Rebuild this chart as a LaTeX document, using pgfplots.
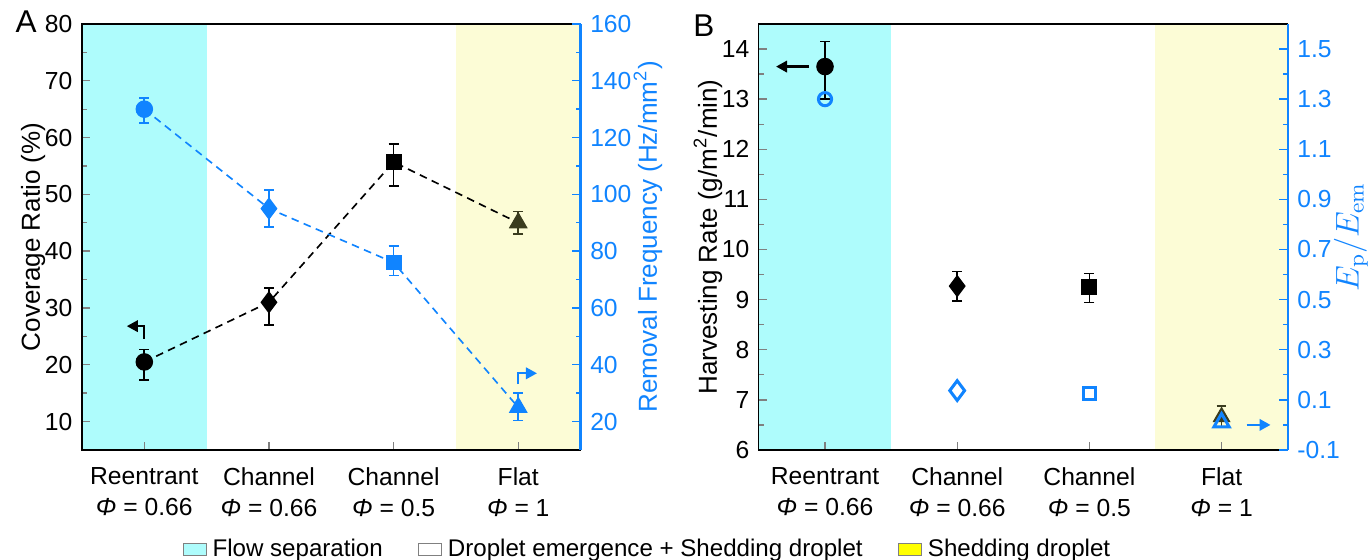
\documentclass[border=0pt]{standalone}
\usepackage[no-math]{fontspec}
\setmainfont{Liberation Sans}
\usepackage{pgfplots}
\pgfplotsset{compat=1.18}
\usetikzlibrary{arrows.meta}

\definecolor{cyanbg}{RGB}{174,252,252}
\definecolor{yellowbg}{RGB}{252,252,214}
\definecolor{fblue}{RGB}{16,132,255}
\definecolor{darkol}{RGB}{58,60,30}
\definecolor{legyellow}{RGB}{255,255,0}

\pgfplotsset{
  every axis/.append style={
    scale only axis,
    font=\fontsize{9.5}{11}\selectfont,
    tick label style={font=\fontsize{9}{11.2}\selectfont},
    /pgf/number format/assume math mode=true,
    xmin=-0.5, xmax=3.5,
    height=155.5pt,
    tick style={line width=0.5pt},
    major tick length=3pt, minor tick length=1.8pt,
  },
  leftax/.style={axis on top, xtick pos=bottom, ytick pos=left,
    xtick={0,1,2,3},
    xticklabel style={align=center, yshift=-3pt},
    xticklabels={{Reentrant\\\textit{Φ} = 0.66},{Channel\\\textit{Φ} = 0.66},
                 {Channel\\\textit{Φ} = 0.5},{Flat\\\textit{Φ} = 1}},
    ylabel shift=-7pt,
    minor y tick num=1, clip=false},
  rightax/.style={axis x line=none, axis y line*=right,
    y axis line style={fblue, line width=0.8pt},
    ytick style={fblue}, yticklabel style={text=fblue},
    ylabel style={text=fblue}, minor y tick num=1, clip=false},
  ebar/.style={/pgfplots/error bars/y dir=both, /pgfplots/error bars/y explicit,
    /pgfplots/error bars/error bar style={line width=0.6pt},
    /pgfplots/error bars/error mark options={rotate=90, mark size=1.8pt, line width=0.6pt}},
  dline/.style={dash pattern=on 2.8pt off 2pt, line width=0.6pt},
}

\begin{document}
\begin{tikzpicture}
\path[use as bounding box] (-29.93pt,-39.8pt) rectangle (469.8pt,164.25pt);

% ---------------- panel A ----------------
\begin{axis}[leftax, at={(0,0)}, anchor=south west, width=182pt,
  ymin=5, ymax=80, ytick={10,20,...,80},
  ylabel={Coverage Ratio (\%)},
  legend style={at={(1.138,-0.235)}, anchor=center, draw=none, fill=none,
    legend columns=3, font=\fontsize{8.8}{10}\selectfont,
    /tikz/every even column/.append style={column sep=11pt}},
  legend image code/.code={\draw[#1] (0pt,-2.1pt) rectangle (8.4pt,2.3pt);},
]
\addlegendimage{fill=cyanbg, draw=gray}
\addlegendentry{Flow separation}
\addlegendimage{fill=white, draw=gray}
\addlegendentry{Droplet emergence + Shedding droplet}
\addlegendimage{fill=legyellow, draw=gray}
\addlegendentry{Shedding droplet}

\fill[cyanbg] (axis cs:-0.5,5) rectangle (axis cs:0.5,80);
\fill[yellowbg] (axis cs:2.5,5) rectangle (axis cs:3.5,80);

\addplot[black, dline, forget plot] coordinates {(0,20.5) (1,31) (2,55.7) (3,45)};
\addplot[black, only marks, mark=*, mark size=3pt, forget plot, ebar]
  coordinates {(0,20.5) += (0,2.2) -= (0,3.2)};
\addplot[black, only marks, mark=diamond*, mark size=3.8pt, forget plot, ebar]
  coordinates {(1,31) += (0,2.5) -= (0,4)};
\addplot[black, only marks, mark=square*, mark size=2.7pt, forget plot, ebar]
  coordinates {(2,55.7) += (0,3.2) -= (0,4.2)};
\addplot[darkol, only marks, mark=triangle*, mark size=3.6pt, forget plot, ebar]
  coordinates {(3,45) += (0,2) -= (0,2)};

\draw[black, line width=0.7pt, -{Triangle[length=4pt,width=4.2pt]}]
  (axis cs:0,24.6) -- (axis cs:0,26.8) -- (axis cs:-0.14,26.8);
\draw[fblue, line width=0.7pt, -{Triangle[length=4pt,width=4.2pt]}]
  (axis cs:3,16.6) -- (axis cs:3,18.5) -- (axis cs:3.15,18.5);

\node[anchor=north west, inner sep=0pt, font=\fontsize{11.5}{12}\selectfont]
  at (rel axis cs:-0.134,1.033) {A};
\end{axis}

\begin{axis}[rightax, at={(0,0)}, anchor=south west, width=182pt,
  ymin=10, ymax=160, ytick={20,40,...,160},
  ylabel={Removal Frequency (Hz/mm\textsuperscript{2})}, ylabel shift=-6pt,
]
\addplot[fblue, dline] coordinates {(0,130) (1,95) (2,76) (3,25)};
\addplot[fblue, only marks, mark=*, mark size=3pt, ebar]
  coordinates {(0,130) += (0,4) -= (0,4.8)};
\addplot[fblue, only marks, mark=diamond*, mark size=3.8pt, ebar]
  coordinates {(1,95) += (0,6.6) -= (0,6.4)};
\addplot[fblue, only marks, mark=square*, mark size=2.7pt, ebar]
  coordinates {(2,76) += (0,5.8) -= (0,4.6)};
\addplot[fblue, only marks, mark=triangle*, mark size=3.6pt, ebar]
  coordinates {(3,25) += (0,5) -= (0,4.6)};
\end{axis}

% ---------------- panel B ----------------
\begin{axis}[leftax, at={(247.1pt,0)}, anchor=south west, width=193pt,
  ymin=6, ymax=14.5, ytick={6,...,14},
  ylabel={Harvesting Rate (g/m\textsuperscript{2}/min)},
]
\fill[cyanbg] (axis cs:-0.5,6) rectangle (axis cs:0.5,14.5);
\fill[yellowbg] (axis cs:2.5,6) rectangle (axis cs:3.5,14.5);

\addplot[black, only marks, mark=*, mark size=3pt, ebar]
  coordinates {(0,13.65) += (0,0.5) -= (0,0.65)};
\addplot[black, only marks, mark=diamond*, mark size=3.8pt, ebar]
  coordinates {(1,9.27) += (0,0.29) -= (0,0.3)};
\addplot[black, only marks, mark=square*, mark size=2.7pt, ebar]
  coordinates {(2,9.25) += (0,0.27) -= (0,0.31)};
\addplot[darkol, only marks, mark=triangle*, mark size=3.4pt, ebar]
  coordinates {(3,6.66) += (0,0.22) -= (0,0.2)};

\draw[black, line width=0.8pt, -{Triangle[length=4pt,width=4.2pt]}]
  (axis cs:-0.12,13.65) -- (axis cs:-0.37,13.65);
\draw[fblue, line width=0.8pt, -{Triangle[length=4pt,width=4.2pt]}]
  (axis cs:3.19,6.5) -- (axis cs:3.37,6.5);

\node[anchor=north west, inner sep=0pt, font=\fontsize{11.5}{12}\selectfont]
  at (rel axis cs:-0.125,1.023) {B};
\end{axis}

\begin{axis}[rightax, at={(247.1pt,0)}, anchor=south west, width=193pt,
  ymin=-0.1, ymax=1.6, ytick={-0.1,0.1,0.3,0.5,0.7,0.9,1.1,1.3,1.5},
  yticklabel style={/pgf/number format/.cd, fixed, fixed zerofill, precision=1},
  ylabel={$E_\mathrm{p}/E_\mathrm{em}$}, ylabel shift=-9pt,
  ylabel style={font=\fontsize{11.5}{12}\selectfont},
]
\addplot[fblue, only marks, mark=o, mark size=2.4pt, mark options={line width=1.1pt}]
  coordinates {(0,1.3)};
\addplot[fblue, only marks, mark=diamond, mark size=3.6pt, mark options={line width=1.1pt}]
  coordinates {(1,0.137)};
\addplot[fblue, only marks, mark=square, mark size=2.2pt, mark options={line width=1.1pt}]
  coordinates {(2,0.124)};
\addplot[fblue, only marks, mark=triangle, mark size=3.2pt, mark options={line width=1.1pt}]
  coordinates {(3,0.01)};
\end{axis}
\end{tikzpicture}
\end{document}
